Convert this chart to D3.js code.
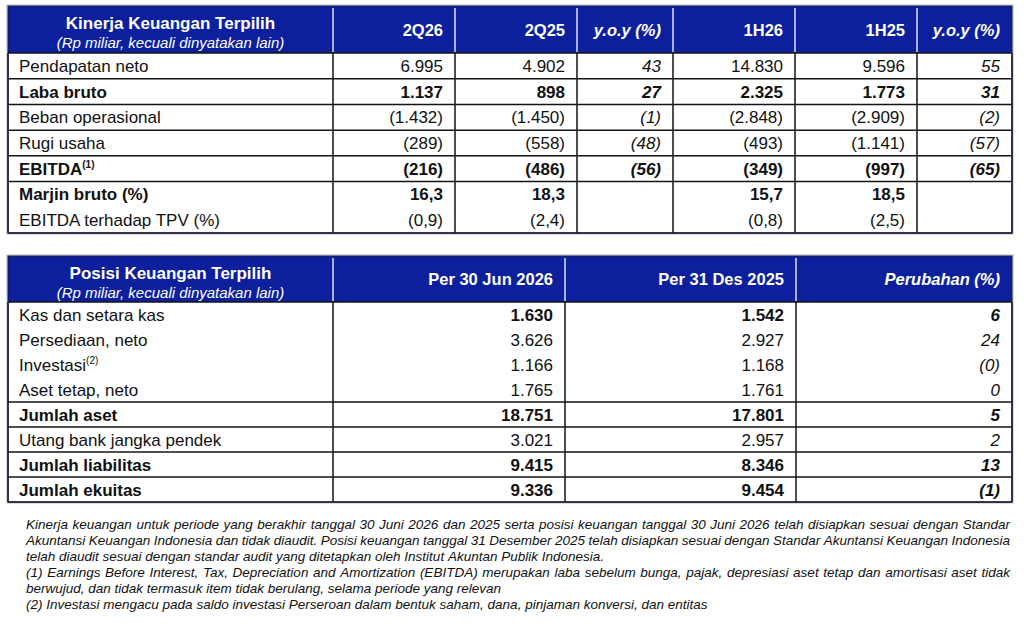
<!DOCTYPE html>
<html>
<head>
<meta charset="utf-8">
<script src="https://cdn.jsdelivr.net/npm/d3@7"></script>
<style>
  html, body { margin: 0; padding: 0; background: #fff; }
  svg { display: block; font-family: "Liberation Sans", Arial, sans-serif; }
</style>
</head>
<body>
<div id="chart"></div>
<script>
// ---- data ----
const perfTitle = "Kinerja Keuangan Terpilih";
const subTitle = "(Rp miliar, kecuali dinyatakan lain)";
const perfColumns = ["2Q26", "2Q25", "y.o.y (%)", "1H26", "1H25", "y.o.y (%)"];
const perfRows = ["Pendapatan neto", "Laba bruto", "Beban operasional", "Rugi usaha", "EBITDA", "Marjin bruto (%)", "EBITDA terhadap TPV (%)"];
const perfNotes = [null, null, null, null, "(1)", null, null];
const perfBold = [false, true, false, false, true, true, false];
const perfQ226 = [6995, 1137, -1432, -289, -216, 16.3, -0.9];
const perfQ225 = [4902, 898, -1450, -558, -486, 18.3, -2.4];
const perfQYoy = [43, 27, -1, -48, -56, null, null];
const perfH126 = [14830, 2325, -2848, -493, -349, 15.7, -0.8];
const perfH125 = [9596, 1773, -2909, -1141, -997, 18.5, -2.5];
const perfHYoy = [55, 31, -2, -57, -65, null, null];
const perfDecimals = [0, 0, 0, 0, 0, 1, 1];

const posTitle = "Posisi Keuangan Terpilih";
const posColumns = ["Per 30 Jun 2026", "Per 31 Des 2025", "Perubahan (%)"];
const posRows = ["Kas dan setara kas", "Persediaan, neto", "Investasi", "Aset tetap, neto", "Jumlah aset", "Utang bank jangka pendek", "Jumlah liabilitas", "Jumlah ekuitas"];
const posNotes = [null, null, "(2)", null, null, null, null, null];
const posLabelBold = [false, false, false, false, true, false, true, true];
const posValueBold = [true, false, false, false, true, false, true, true];
const posJun26 = [1630, 3626, 1166, 1765, 18751, 3021, 9415, 9336];
const posDes25 = [1542, 2927, 1168, 1761, 17801, 2957, 8346, 9454];
const posChange = [6, 24, -0.2, 0.2, 5, 2, 13, -1];

const footnotes = [
  { text: "Kinerja keuangan untuk periode yang berakhir tanggal 30 Juni 2026 dan 2025 serta posisi keuangan tanggal 30 Juni 2026 telah disiapkan sesuai dengan Standar", justify: true },
  { text: "Akuntansi Keuangan Indonesia dan tidak diaudit. Posisi keuangan tanggal 31 Desember 2025 telah disiapkan sesuai dengan Standar Akuntansi Keuangan Indonesia", justify: true },
  { text: "telah diaudit sesuai dengan standar audit yang ditetapkan oleh Institut Akuntan Publik Indonesia.", justify: false },
  { text: "(1) Earnings Before Interest, Tax, Depreciation and Amortization (EBITDA) merupakan laba sebelum bunga, pajak, depresiasi aset tetap dan amortisasi aset tidak", justify: true },
  { text: "berwujud, dan tidak termasuk item tidak berulang, selama periode yang relevan", justify: false },
  { text: "(2) Investasi mengacu pada saldo investasi Perseroan dalam bentuk saham, dana, pinjaman konversi, dan entitas", justify: false }
];

// ---- layout ----
const width = 1024, height = 628;
const BLUE = "#0c1f9c";
const LINE = "#141414";

const idLocale = d3.formatLocale({ decimal: ",", thousands: ".", grouping: [3], currency: ["Rp", ""] });
function fmt(v, dec) {
  if (v == null) return "";
  const s = idLocale.format(",." + dec + "f")(Math.abs(v));
  return v < 0 ? "(" + s + ")" : s;
}

const svg = d3.select("#chart").append("svg")
  .attr("width", width).attr("height", height)
  .attr("viewBox", `0 0 ${width} ${height}`);

function drawTable(cfg) {
  const g = svg.append("g");
  const left = cfg.edges[0], right = cfg.edges[cfg.edges.length - 1];
  const top = cfg.top, headBottom = cfg.top + cfg.headerH;
  const y = d3.scaleBand().domain(d3.range(cfg.rows.length)).range([headBottom, cfg.bottom]);

  // faint outline
  g.append("rect").attr("x", left - 1).attr("y", top - 1)
    .attr("width", right - left + 2).attr("height", cfg.bottom - top + 2)
    .attr("fill", "none").attr("stroke", "#b5b5b5").attr("stroke-width", 1);

  // header band
  g.append("rect").attr("x", left).attr("y", top)
    .attr("width", right - left).attr("height", cfg.headerH).attr("fill", BLUE);
  g.selectAll("line.hsep").data(cfg.edges.slice(1, -1)).join("line")
    .attr("class", "hsep")
    .attr("x1", d => d).attr("x2", d => d).attr("y1", top + 2).attr("y2", headBottom - 1)
    .attr("stroke", "#ffffff").attr("stroke-width", 1.3);

  // title block
  const cx = (cfg.edges[0] + cfg.edges[1]) / 2;
  g.append("text").attr("x", cx).attr("y", top + 23).attr("text-anchor", "middle")
    .attr("fill", "#fff").attr("font-weight", "bold").attr("font-size", 17).text(cfg.title);
  g.append("text").attr("x", cx).attr("y", top + 42).attr("text-anchor", "middle")
    .attr("fill", "#fff").attr("font-style", "italic").attr("font-size", 15).text(subTitle);

  // column headers
  g.selectAll("text.colhead").data(cfg.columns).join("text")
    .attr("class", "colhead")
    .attr("x", (d, i) => cfg.edges[i + 2] - 12)
    .attr("y", top + cfg.headerH / 2 + 6)
    .attr("text-anchor", "end").attr("fill", "#fff")
    .attr("font-weight", "bold").attr("font-size", 16.5)
    .attr("font-style", (d, i) => cfg.italicCols[i] ? "italic" : "normal")
    .text(d => d);

  // row labels
  const labels = g.selectAll("text.label").data(cfg.rows).join("text")
    .attr("class", "label")
    .attr("x", left + 11)
    .attr("y", (d, i) => y(i) + y.bandwidth() / 2 + 6)
    .attr("font-size", 17).attr("fill", "#111")
    .attr("font-weight", (d, i) => cfg.labelBold[i] ? "bold" : "normal");
  labels.append("tspan").text(d => d);
  labels.append("tspan")
    .attr("font-size", 10).attr("dy", -7)
    .text((d, i) => cfg.notes[i] || "");

  // values
  cfg.series.forEach((vals, c) => {
    g.selectAll(`text.v${c}`).data(vals).join("text")
      .attr("class", `v${c}`)
      .attr("x", cfg.edges[c + 2] - 12)
      .attr("y", (d, i) => y(i) + y.bandwidth() / 2 + 6)
      .attr("text-anchor", "end").attr("font-size", 17).attr("fill", "#111")
      .attr("font-weight", (d, i) => cfg.valueBold[i] ? "bold" : "normal")
      .attr("font-style", cfg.italicCols[c] ? "italic" : "normal")
      .text((d, i) => fmt(d, cfg.decimals ? cfg.decimals[i] : 0));
  });

  // grid lines
  const rowLines = [headBottom].concat(
    d3.range(1, cfg.rows.length).filter(i => cfg.lineBefore[i]).map(i => y(i)));
  g.selectAll("line.row").data(rowLines).join("line")
    .attr("class", "row")
    .attr("x1", left).attr("x2", right).attr("y1", d => d).attr("y2", d => d)
    .attr("stroke", LINE).attr("stroke-width", 1.5);
  g.selectAll("line.col").data(cfg.edges).join("line")
    .attr("class", "col")
    .attr("x1", d => d).attr("x2", d => d).attr("y1", headBottom).attr("y2", cfg.bottom)
    .attr("stroke", LINE).attr("stroke-width", 1.5);
  g.append("line").attr("x1", left).attr("x2", right).attr("y1", cfg.bottom).attr("y2", cfg.bottom)
    .attr("stroke", LINE).attr("stroke-width", 1.5);
  g.append("rect").attr("x", left).attr("y", top)
    .attr("width", right - left).attr("height", cfg.bottom - top)
    .attr("fill", "none").attr("stroke", "#1a1a4a").attr("stroke-width", 1);
}

drawTable({
  title: perfTitle,
  columns: perfColumns,
  italicCols: [false, false, true, false, false, true],
  rows: perfRows,
  notes: perfNotes,
  labelBold: perfBold,
  valueBold: perfBold,
  decimals: perfDecimals,
  series: [perfQ226, perfQ225, perfQYoy, perfH126, perfH125, perfHYoy],
  lineBefore: [false, true, true, true, true, true, false],
  edges: [8, 333, 455, 577, 673, 795, 917, 1012],
  top: 6, headerH: 47, bottom: 233
});

drawTable({
  title: posTitle,
  columns: posColumns,
  italicCols: [false, false, true],
  rows: posRows,
  notes: posNotes,
  labelBold: posLabelBold,
  valueBold: posValueBold,
  decimals: null,
  series: [posJun26, posDes25, posChange],
  lineBefore: [false, false, false, false, true, true, true, true],
  edges: [8, 333, 565, 796, 1012],
  top: 256, headerH: 46, bottom: 502
});

// ---- footnotes (justified like the source) ----
const fnLeft = 26, fnRight = 1010;
const fn = svg.append("g")
  .attr("font-family", "'Liberation Sans Narrow', 'Arial Narrow', 'Liberation Sans', sans-serif")
  .attr("font-style", "italic").attr("font-size", 13.5).attr("fill", "#111");
footnotes.forEach((line, li) => {
  const baseY = 529 + li * 16;
  const words = line.text.split(" ");
  const ws = fn.selectAll(null).data(words).enter().append("text")
    .attr("y", baseY).text(d => d);
  const widths = ws.nodes().map(n => n.getComputedTextLength());
  const space = fn.append("text").text("a a").node().getComputedTextLength()
    - fn.append("text").text("aa").node().getComputedTextLength();
  const total = d3.sum(widths);
  let gap = space;
  let scale = 1;
  if (line.justify) {
    gap = (fnRight - fnLeft - total) / (words.length - 1);
    if (gap < space * 0.6) { scale = (fnRight - fnLeft) / (total + space * (words.length - 1)); gap = space * scale; }
  }
  let x = fnLeft;
  ws.each(function (d, i) {
    d3.select(this).attr("x", x).attr("transform", scale !== 1 ? `translate(${x},0) scale(${scale},1) translate(${-x},0)` : null);
    x += widths[i] * scale + gap;
  });
});
fn.selectAll("text").filter(function () { return !this.hasAttribute("y"); }).remove();
</script>
</body>
</html>
